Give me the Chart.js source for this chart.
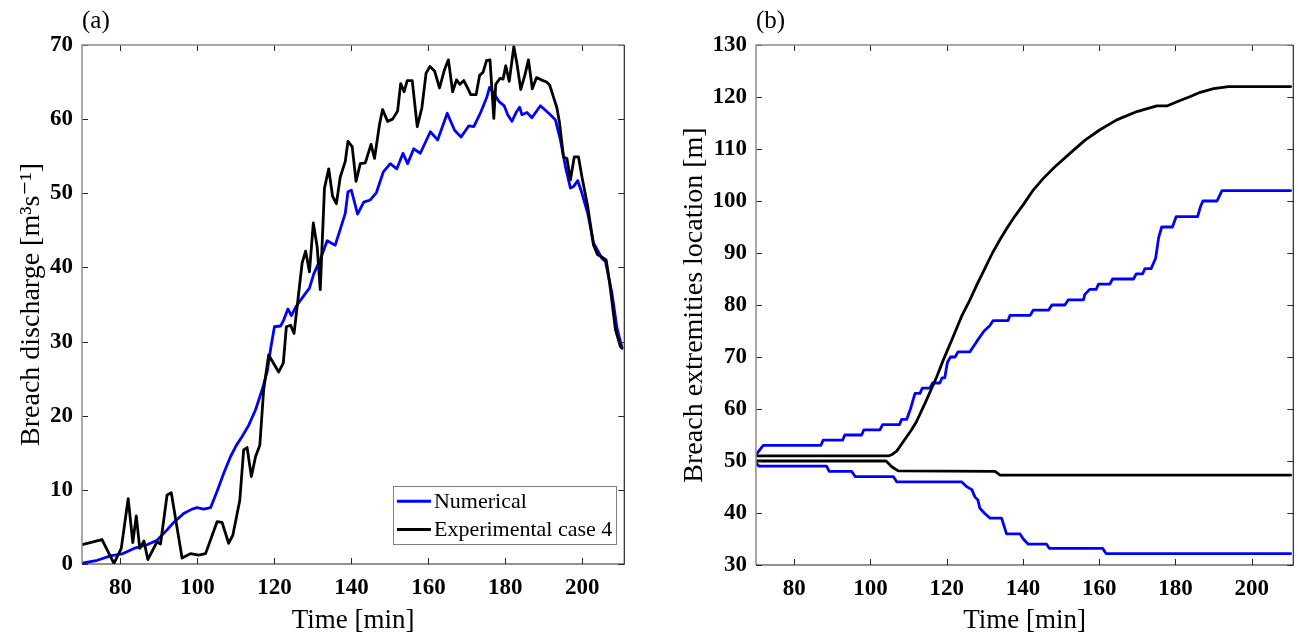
<!DOCTYPE html>
<html><head><meta charset="utf-8">
<script src="https://cdn.jsdelivr.net/npm/chart.js@4.4.1/dist/chart.umd.min.js"></script>
<style>
html,body{margin:0;padding:0;background:#fff;width:1298px;height:637px;overflow:hidden;}
canvas{position:absolute;top:0;}
#ca{left:0;} #cb{left:650px;}
</style></head><body>
<canvas id="ca" width="650" height="637"></canvas>
<canvas id="cb" width="648" height="637"></canvas>
<script>
// ---------- Panel (a): breach discharge ----------
const timeTicks = [80, 100, 120, 140, 160, 180, 200];
const dischargeTicks = [0, 10, 20, 30, 40, 50, 60, 70];
const locationTicks = [30, 40, 50, 60, 70, 80, 90, 100, 110, 120, 130];

const numTime = [70,74,77.4,80.4,83.5,86.9,89.5,92.1,93.8,96.4,98.6,99.9,101.6,103.4,105.1,106.8,108.6,110.1,111.6,113.3,115.1,116.8,118.1,119.1,120,121.6,122.4,123.5,124.4,125.7,127.5,129.1,130.2,132,133.7,135.8,138.4,139.1,140,141.6,143.2,144.9,146.5,148.3,150.1,151.8,153.4,154.6,156.2,157.9,160.5,162.4,164.9,166.8,168.5,170.5,171.8,173.5,175.2,175.9,177,178.3,179.7,180.6,181.7,182.9,183.7,184.3,185.6,186.9,188,189.1,190.4,191.7,193,194.3,195.6,196.9,197.7,198.8,199.9,201.4,202.9,205.1,206,207.7,209,210.3];
const numDischarge = [0.1,0.5,1.1,1.35,2.1,2.6,3.2,4.6,5.6,6.8,7.4,7.6,7.4,7.6,9.8,12.2,14.5,16,17.2,18.7,20.8,23.5,25.9,29.3,32,32.1,32.9,34.4,33.5,34.8,36.1,37.2,39.1,41.2,43.6,43,47.3,50.2,50.4,47.2,48.8,49.1,50.1,52.9,54,53.3,55.4,54,56,55.4,58.3,57.2,60.8,58.5,57.6,59.1,59,60.8,63,64.3,63.5,62.4,61.8,60.6,59.7,61,61.6,60.6,60.9,60.2,61,61.8,61.2,60.6,59.9,57.2,53.6,50.7,50.9,51.7,50,47.3,43.3,41.2,40.8,36.5,31.8,29.2];

const expTime = [70,75.2,78.3,80.2,82,83.2,84.1,85,86.1,87.1,89.5,90.4,92.1,93.2,96,98.2,100.3,102.1,105.1,106.4,108.1,109.2,111,112,112.9,114,115.1,116.2,117.2,118.5,121.1,122.3,123.1,124.2,125.1,127.2,128.1,129.1,130.1,131.1,131.9,133,134.1,135.1,136.1,137.1,138.4,139.1,140.2,141.2,142.3,143.6,145.1,146,147.3,148.1,149.4,150.7,152,152.8,153.7,154.5,155.8,157.1,158.3,159.4,160.4,161.6,162.9,164.2,165.2,166.3,167.3,168.2,169.2,170.1,171,172.4,173.3,174.2,175.1,176,177,177.5,178.6,179.4,180.1,181,182.2,183,184,185.1,186,187,188.1,189.3,190.7,191.5,192.3,193.4,194.1,195.1,196,196.9,197.9,199,199.9,201.4,202.9,204,205.1,206.2,207.1,208.6,209.9,210.3];
const expDischarge = [2.6,3.3,0.1,2.1,8.8,2.9,6.5,2.1,3.1,0.6,3,2.7,9.3,9.6,0.8,1.4,1.2,1.4,5.7,5.6,2.8,3.9,8.6,15.4,15.7,11.8,14.5,16,23.5,28.2,25.9,27.1,32,32.2,31.1,40.6,42.2,39.4,46,42.8,37,50.7,53.3,49.6,48.6,52.2,54.3,57,56.3,51.6,54,54.1,56.6,54.7,59.3,61.3,59.7,60,61.1,64.8,63.7,65.2,65.2,59,61.5,66.2,67.1,66.5,64.2,66.7,68,63.7,65.3,64.7,65.2,64.3,63.3,63.3,65.9,66.3,67.9,68,60.1,64.7,65.5,65.4,67.2,65.1,69.8,67.5,64,66,68,64.1,65.6,65.3,65,64.6,63.3,61.5,59.4,54.9,54.7,51.8,54.9,54.9,52.2,48.2,43,41.7,41.4,41,37.9,31.6,29.3,29.1];

// ---------- Panel (b): breach extremities location ----------
const numUpperTime = [70,71.9,87,87.6,92.7,93.3,97.7,98.3,102.5,103.2,107.6,108.2,109.5,110.5,111.7,113,113.6,115.6,116.3,118.2,118.8,119.5,120.2,121,122.2,123,126.1,127.9,129.8,131.3,132.2,136.1,136.6,141.9,142.7,146.7,147.6,151,151.9,155.9,156.2,157.5,159.2,159.8,162.8,163.5,169,169.7,171.4,172,173.6,174.8,175.6,176.4,179.2,180.2,185.8,186.6,187.2,190.9,192.2,210.2];
const numUpperLoc = [51.2,53,53,54,54,55,55,56,56,57,57,58,58,60,63,63,64,64,65,65,66,66,69,70,70,71,71,73,75,76,77,77,78,78,79,79,80,80,81,81,82,83,83,84,84,85,85,86,86,87,87,89,93,95,95,97,97,99,100,100,102,102];

const numLowerTime = [70,70.8,88.5,89.2,95.1,96,106,106.9,123.9,125.2,126.6,127.4,128.2,128.7,130,131.4,134.4,135.7,139.2,140.1,141.4,146.2,146.9,160.9,161.8,210.2];
const numLowerLoc = [49.6,49,49,48,48,47,47,46,46,45.1,44.5,43.1,42.5,40.9,39.9,39,39,36,36,35,34,34,33.2,33.2,32.2,32.2];

const expUpperTime = [70,104.9,105.8,106.9,108.6,110.8,112.1,114.7,117.4,119.1,121.7,123.9,126.1,128,130,132,134,136,138,140.1,142.7,145.4,148.4,152.4,156.3,160.2,164.6,169.9,175.1,177.9,180.4,183.9,186.5,190,193.9,210.2];
const expUpperLoc = [51,51,51.3,51.9,53.7,56,57.6,61.7,66.2,69.4,73.9,77.8,81,84,87,90,92.6,95,97.2,99.3,102.1,104.4,106.6,109.2,111.7,113.7,115.6,117.2,118.3,118.3,119.1,120.1,120.9,121.6,122,122];

const expLowerTime = [70,104.1,105.6,107.3,132.7,134,210.2];
const expLowerLoc = [50,50,48.9,48.1,48,47.3,47.3];

const BLUE = '#0000ff', BLACK = '#000000';
const SERIF = '"Liberation Serif", "DejaVu Serif", serif';

function pts(ts, vs) { return ts.map((t, i) => ({ x: t, y: vs[i] })); }

const framePlugin = {
  id: 'frame',
  afterDatasetsDraw(chart) {
    const { ctx, chartArea: a, scales: { x, y } } = chart;
    ctx.save();
    const L = 6;
    ctx.lineWidth = 1;
    ctx.strokeStyle = '#262626';
    ctx.beginPath();
    x.ticks.forEach(t => {
      const px = Math.round(x.getPixelForValue(t.value)) + 0.5;
      ctx.moveTo(px, a.bottom); ctx.lineTo(px, a.bottom - L);
      ctx.moveTo(px, a.top); ctx.lineTo(px, a.top + L);
    });
    y.ticks.forEach(t => {
      const py = Math.round(y.getPixelForValue(t.value)) + 0.5;
      ctx.moveTo(a.left, py); ctx.lineTo(a.left + L, py);
      ctx.moveTo(a.right, py); ctx.lineTo(a.right - L, py);
    });
    ctx.stroke();
    ctx.lineWidth = 1.5;
    ctx.strokeStyle = '#8c8c8c';
    ctx.beginPath();
    ctx.moveTo(a.left, a.bottom); ctx.lineTo(a.left, a.top); ctx.lineTo(a.right, a.top);
    ctx.stroke();
    ctx.lineWidth = 1.2;
    ctx.strokeStyle = '#262626';
    ctx.beginPath();
    ctx.moveTo(a.right, a.top); ctx.lineTo(a.right, a.bottom); ctx.lineTo(a.left, a.bottom);
    ctx.stroke();
    ctx.restore();
  }
};

const insideLegend = {
  id: 'insideLegend',
  afterDraw(chart, args, opts) {
    if (!opts || !opts.show) return;
    const ctx = chart.ctx, a = chart.chartArea;
    const items = chart.data.datasets.filter(d => d.inLegend);
    ctx.save();
    ctx.font = '22px ' + SERIF;
    const tw = Math.max(...items.map(d => ctx.measureText(d.label).width));
    const lineLen = 34, pad = 4, gap = 3, rowH = 28.3, h = 58;
    const w = pad + lineLen + gap + tw + pad;
    const right = a.right - 8, bottom = a.bottom - 20;
    const left = right - w, top = bottom - h;
    ctx.fillStyle = '#fff';
    ctx.fillRect(left, top, w, h);
    ctx.strokeStyle = '#7f7f7f'; ctx.lineWidth = 1;
    ctx.strokeRect(Math.round(left) + 0.5, Math.round(top) + 0.5, Math.round(w), Math.round(h));
    items.forEach((d, i) => {
      const cy = top + 15.3 + i * rowH;
      ctx.strokeStyle = d.borderColor; ctx.lineWidth = 3;
      ctx.beginPath(); ctx.moveTo(left + pad, cy); ctx.lineTo(left + pad + lineLen, cy); ctx.stroke();
      ctx.fillStyle = '#000'; ctx.textBaseline = 'middle'; ctx.textAlign = 'left';
      ctx.fillText(d.label, left + pad + lineLen + gap, cy + 1);
    });
    ctx.restore();
  }
};

function makeOptions(cfg) {
  return {
    responsive: false,
    animation: false,
    events: [],
    layout: { padding: { left: 0, right: cfg.padRight, top: 0, bottom: 0 } },
    plugins: {
      legend: { display: false },
      tooltip: { enabled: false },
      title: {
        display: true, text: cfg.panel, align: 'start', fullSize: false,
        color: '#000', font: { family: SERIF, size: 25, weight: 'normal' },
        padding: { top: 6, bottom: 9 }
      },
      insideLegend: { show: cfg.legend }
    },
    scales: {
      x: {
        type: 'linear', min: 70, max: 210.9,
        afterBuildTicks: s => { s.ticks = timeTicks.map(v => ({ value: v })); },
        afterFit: s => { s.height = cfg.xHeight; },
        grid: { display: false, drawTicks: false },
        border: { display: false },
        ticks: { padding: 10, maxRotation: 0, autoSkip: false, color: '#000',
                 font: { family: SERIF, size: 23, weight: 'bold' } },
        title: { display: true, text: 'Time [min]', color: '#000',
                 font: { family: SERIF, size: 27, weight: 'normal' }, padding: { top: 0, bottom: 0 } }
      },
      y: {
        type: 'linear', min: cfg.yMin, max: cfg.yMax,
        afterBuildTicks: s => { s.ticks = cfg.yTicks.map(v => ({ value: v })); },
        afterFit: s => { s.width = cfg.yWidth; },
        grid: { display: false, drawTicks: false },
        border: { display: false },
        ticks: { padding: cfg.yTickPad, autoSkip: false, color: '#000',
                 font: { family: SERIF, size: 23, weight: 'bold' } },
        title: { display: true, text: cfg.yTitle, color: '#000',
                 font: { family: SERIF, size: 28, weight: 'normal' }, padding: { top: cfg.yTitlePad, bottom: 0 } }
      }
    },
    elements: { point: { radius: 0 }, line: { tension: 0, borderWidth: 2.8, borderCapStyle: 'round', borderJoinStyle: 'round' } }
  };
}

new Chart(document.getElementById('ca'), {
  type: 'line',
  data: {
    datasets: [
      { label: 'Numerical', inLegend: true, data: pts(numTime, numDischarge), borderColor: BLUE, backgroundColor: BLUE, fill: false, order: 2 },
      { label: 'Experimental case 4', inLegend: true, data: pts(expTime, expDischarge), borderColor: BLACK, backgroundColor: BLACK, fill: false, order: 1 }
    ]
  },
  options: makeOptions({ panel: '(a)', padRight: 25.7, xHeight: 73, yWidth: 82, yTickPad: 9, yTitlePad: 15,
    yMin: 0, yMax: 70, yTicks: dischargeTicks, yTitle: 'Breach discharge [m³s⁻¹]', legend: true }),
  plugins: [framePlugin, insideLegend]
});

new Chart(document.getElementById('cb'), {
  type: 'line',
  data: {
    datasets: [
      { label: 'Numerical (right extremity)', data: pts(numUpperTime, numUpperLoc), borderColor: BLUE, backgroundColor: BLUE, fill: false, order: 2 },
      { label: 'Numerical (left extremity)', data: pts(numLowerTime, numLowerLoc), borderColor: BLUE, backgroundColor: BLUE, fill: false, order: 2 },
      { label: 'Experimental (right extremity)', data: pts(expUpperTime, expUpperLoc), borderColor: BLACK, backgroundColor: BLACK, fill: false, order: 1 },
      { label: 'Experimental (left extremity)', data: pts(expLowerTime, expLowerLoc), borderColor: BLACK, backgroundColor: BLACK, fill: false, order: 1 }
    ]
  },
  options: makeOptions({ panel: '(b)', padRight: 4.7, xHeight: 72, yWidth: 106, yTickPad: 9, yTitlePad: 28,
    yMin: 30, yMax: 130, yTicks: locationTicks, yTitle: 'Breach extremities location [m]', legend: false }),
  plugins: [framePlugin, insideLegend]
});
</script>
</body></html>
